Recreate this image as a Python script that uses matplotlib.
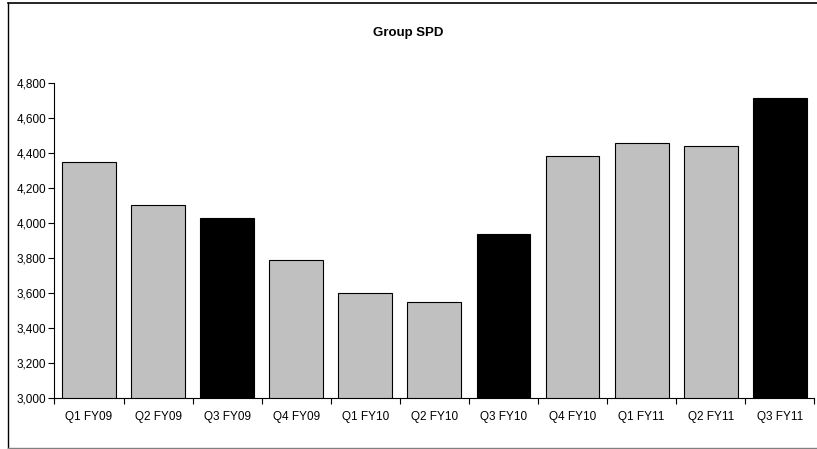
import matplotlib.pyplot as plt
import numpy as np
from matplotlib.lines import Line2D
from matplotlib.ticker import FuncFormatter

plt.rcParams['font.family'] = ['Liberation Sans Narrow', 'Liberation Sans', 'DejaVu Sans']

# quarterly SPD values
quarters = ['Q1 FY09', 'Q2 FY09', 'Q3 FY09', 'Q4 FY09', 'Q1 FY10', 'Q2 FY10',
            'Q3 FY10', 'Q4 FY10', 'Q1 FY11', 'Q2 FY11', 'Q3 FY11']
spd = [4352, 4105, 4032, 3792, 3603, 3549, 3941, 4386, 4457, 4441, 4716]

# Q3 quarters are highlighted in black
colors = ['black' if q.startswith('Q3') else '#c0c0c0' for q in quarters]

fig = plt.figure(figsize=(8.17, 4.49), dpi=100)
ax = fig.add_axes([0.0667, 0.1129, 0.930, 0.7016])

x = np.arange(len(quarters))
ax.bar(x, spd, width=0.78, color=colors, edgecolor='black', linewidth=0.8)

ax.set_ylim(3000, 4800)
ax.set_xlim(-0.5, len(quarters) - 0.5)
ax.set_yticks(np.arange(3000, 4801, 200))
ax.yaxis.set_major_formatter(FuncFormatter(lambda v, p: f'{int(v):,}'))

# category labels centred, tick marks between categories
ax.set_xticks(x)
ax.set_xticklabels(quarters)
ax.set_xticks(np.arange(-0.5, len(quarters)), minor=True)
ax.tick_params(axis='x', which='major', length=0, pad=9, labelsize=8.5)
ax.tick_params(axis='x', which='minor', length=4, width=0.8, direction='out')
ax.tick_params(axis='y', length=4, width=0.8, labelsize=8.5, pad=2)

for s in ['top', 'right']:
    ax.spines[s].set_visible(False)
for s in ['left', 'bottom']:
    ax.spines[s].set_linewidth(0.8)

fig.text(0.5, 0.9265, 'Group SPD', ha='center', va='center',
         fontsize=9.5, fontweight='bold')

# chart area frame: top and left in black, bottom in grey, open on the right
fig.lines.append(Line2D([0.0098, 1.0], [0.9933, 0.9933], transform=fig.transFigure,
                        color='black', linewidth=1.2))
fig.lines.append(Line2D([0.0098, 0.0098], [0.9933, 0.003], transform=fig.transFigure,
                        color='black', linewidth=1.0))
fig.lines.append(Line2D([0.0098, 1.0], [0.003, 0.003], transform=fig.transFigure,
                        color='#808080', linewidth=1.0))

fig.savefig('out.png', dpi=100)
